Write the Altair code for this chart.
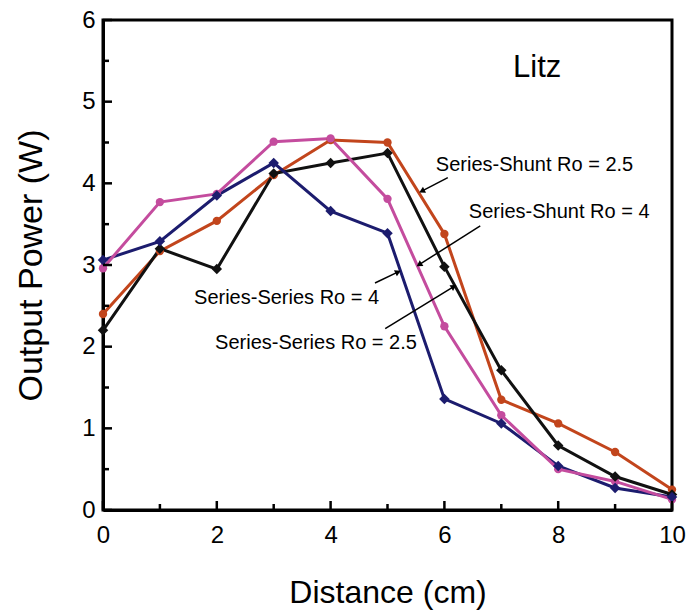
import math
import altair as alt
import pandas as pd

# ---------------- data ----------------
distance = [0, 1, 2, 3, 4, 5, 6, 7, 8, 9, 10]
series_series_25 = [2.20, 3.20, 2.95, 4.12, 4.25, 4.37, 2.98, 1.71, 0.79, 0.41, 0.19]
series_series_4 = [3.06, 3.29, 3.85, 4.25, 3.66, 3.39, 1.36, 1.06, 0.54, 0.27, 0.16]
series_shunt_25 = [2.40, 3.17, 3.54, 4.10, 4.53, 4.50, 3.38, 1.35, 1.06, 0.71, 0.25]
series_shunt_4 = [2.96, 3.77, 3.87, 4.51, 4.55, 3.81, 2.25, 1.16, 0.50, 0.35, 0.13]

series_names = ["Series-Shunt Ro = 2.5", "Series-Series Ro = 2.5",
                "Series-Series Ro = 4", "Series-Shunt Ro = 4"]
series_values = [series_shunt_25, series_series_25, series_series_4, series_shunt_4]
series_colors = ["#c2451c", "#111111", "#1c1c6e", "#c44c9e"]
series_marker = ["circle", "diamond", "diamond", "circle"]

x_tick_labels = [0, 2, 4, 6, 8, 10]
x_minor = [1, 3, 5, 7, 9]
y_tick_labels = [0, 1, 2, 3, 4, 5, 6]
y_minor = [0.5, 1.5, 2.5, 3.5, 4.5, 5.5]

# annotations (data units)
ann_text = ["Series-Shunt Ro = 2.5", "Series-Shunt Ro = 4",
            "Series-Series Ro = 4", "Series-Series Ro = 2.5"]
ann_x = [5.85, 6.43, 1.60, 1.97]
ann_y = [4.22, 3.65, 2.60, 2.04]
arrow_x = [6.06, 6.63, 4.78, 4.96]
arrow_y = [4.07, 3.48, 2.78, 2.22]
arrow_tip_x = [5.62, 5.57, 5.17, 6.15]
arrow_tip_y = [3.91, 3.01, 2.91, 2.73]
panel_label = ["Litz"]
panel_x = [7.63]
panel_y = [5.41]

# ---------------- layout ----------------
W, H = 569, 490
X_DOM, Y_DOM = [0, 10], [0, 6]
FONT = "'Liberation Sans', Arial, sans-serif"

rows = []
for name, vals, mk in zip(series_names, series_values, series_marker):
    for d, v in zip(distance, vals):
        rows.append({"distance": d, "power": v, "series": name, "marker": mk})
df = pd.DataFrame(rows)

x_axis = alt.Axis(values=x_tick_labels, ticks=False, grid=False, labelFontSize=24,
                  labelFont=FONT, labelColor="black", labelPadding=13, labelFlush=False,
                  domainColor="black", domainWidth=3,
                  title="Distance (cm)", titleFont=FONT, titleFontSize=32,
                  titleFontWeight="normal", titleColor="black",
                  titleY=92, titleBaseline="alphabetic")
y_axis = alt.Axis(values=y_tick_labels, ticks=False, grid=False, labelFontSize=24,
                  labelFont=FONT, labelColor="black", labelPadding=8, labelFlush=False,
                  domainColor="black", domainWidth=3,
                  title="Output Power (W)", titleFont=FONT, titleFontSize=34,
                  titleFontWeight="normal", titleColor="black",
                  titleX=-62, titleBaseline="alphabetic")

xs = alt.Scale(domain=X_DOM, nice=False, zero=False)
ys = alt.Scale(domain=Y_DOM, nice=False, zero=False)


def X(field):
    return alt.X(f"{field}:Q", scale=xs, axis=x_axis)


def Y(field):
    return alt.Y(f"{field}:Q", scale=ys, axis=y_axis)


color = alt.Color("series:N", scale=alt.Scale(domain=series_names, range=series_colors), legend=None)

lines = alt.Chart(df).mark_line(strokeWidth=3).encode(
    x=X("distance"), y=Y("power"), color=color, detail="series:N")
circles = alt.Chart(df).transform_filter(alt.datum.marker == "circle").mark_point(
    shape="circle", filled=True, opacity=1, size=70).encode(
    x=X("distance"), y=Y("power"), color=color)
diamonds = alt.Chart(df).transform_filter(alt.datum.marker == "diamond").mark_point(
    shape="square", angle=45, filled=True, opacity=1, size=55).encode(
    x=X("distance"), y=Y("power"), color=color)

# inward ticks
xt_major = alt.Chart(pd.DataFrame({"distance": x_tick_labels})).mark_rule(
    color="black", strokeWidth=2.5).encode(x=X("distance"), y=alt.value(H), y2=alt.value(H - 9))
xt_minor = alt.Chart(pd.DataFrame({"distance": x_minor})).mark_rule(
    color="black", strokeWidth=2.5).encode(x=X("distance"), y=alt.value(H), y2=alt.value(H - 6))
yt_major = alt.Chart(pd.DataFrame({"power": y_tick_labels})).mark_rule(
    color="black", strokeWidth=2.5).encode(y=Y("power"), x=alt.value(0), x2=alt.value(9))
yt_minor = alt.Chart(pd.DataFrame({"power": y_minor})).mark_rule(
    color="black", strokeWidth=2.5).encode(y=Y("power"), x=alt.value(0), x2=alt.value(6))

# annotations
ann_df = pd.DataFrame({"distance": ann_x, "power": ann_y, "label": ann_text})
ann = alt.Chart(ann_df).mark_text(align="left", baseline="middle", font=FONT,
                                  fontSize=20, color="black").encode(
    x=X("distance"), y=Y("power"), text="label:N")

px_per_x = W / (X_DOM[1] - X_DOM[0])
px_per_y = H / (Y_DOM[1] - Y_DOM[0])
angles = []
for tx, ty, hx, hy in zip(arrow_x, arrow_y, arrow_tip_x, arrow_tip_y):
    dx = (hx - tx) * px_per_x
    dy = -(hy - ty) * px_per_y
    angles.append(math.degrees(math.atan2(dx, -dy)) % 360)

arr_df = pd.DataFrame({"distance": arrow_x, "power": arrow_y,
                       "x2": arrow_tip_x, "y2": arrow_tip_y, "ang": angles})
arrows = alt.Chart(arr_df).mark_rule(color="black", strokeWidth=1.5).encode(
    x=X("distance"), y=Y("power"), x2="x2:Q", y2="y2:Q")
heads = alt.Chart(arr_df).mark_point(shape="triangle", filled=True, size=45,
                                     color="black", opacity=1).encode(
    x=alt.X("x2:Q", scale=xs, axis=x_axis), y=alt.Y("y2:Q", scale=ys, axis=y_axis),
    angle=alt.Angle("ang:Q", scale=None))

litz = alt.Chart(pd.DataFrame({"distance": panel_x, "power": panel_y, "label": panel_label})).mark_text(
    align="center", baseline="middle", font=FONT, fontSize=31, color="black").encode(
    x=X("distance"), y=Y("power"), text="label:N")

chart = alt.layer(lines, circles, diamonds, xt_major, xt_minor, yt_major, yt_minor,
                  arrows, heads, ann, litz).properties(
    width=W, height=H,
    autosize=alt.AutoSizeParams(type="none"),
    padding={"left": 103, "top": 20, "right": 18, "bottom": 105},
    background="white",
).configure_view(stroke="black", strokeWidth=3)

chart.save("out.html", embed_options={"renderer": "svg", "actions": False})
